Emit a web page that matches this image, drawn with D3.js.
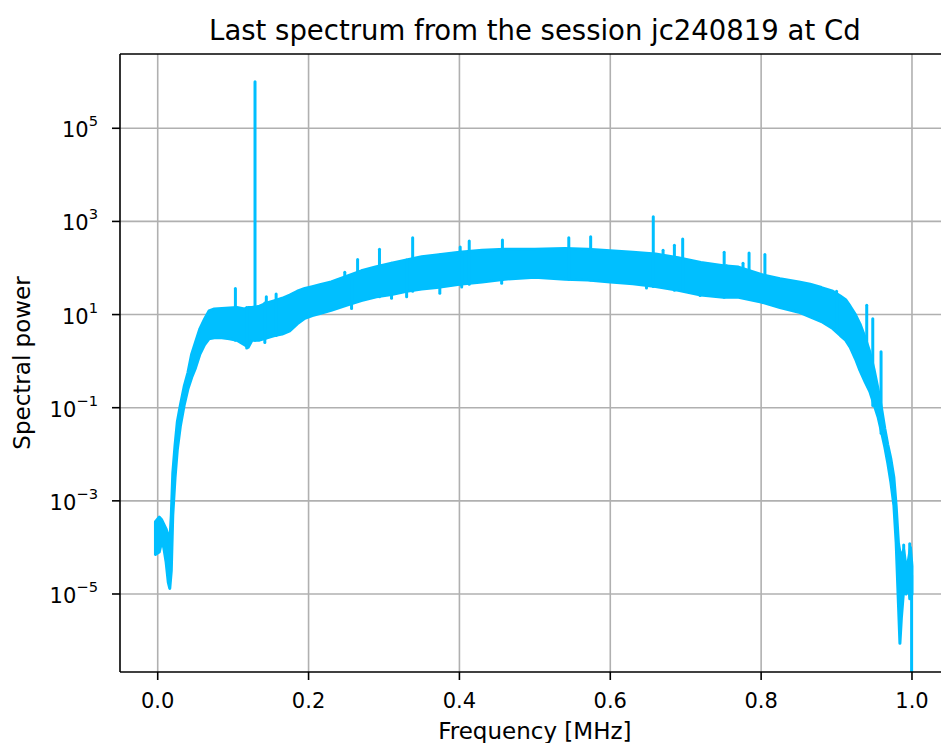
<!DOCTYPE html>
<html>
<head>
<meta charset="utf-8">
<script src="https://cdn.jsdelivr.net/npm/d3@7"></script>
<style>
  html, body { margin: 0; padding: 0; background: #ffffff; }
  svg { display: block; }
  text { font-family: "DejaVu Sans", sans-serif; fill: #000; }
</style>
</head>
<body>
<svg id="chart" width="941" height="743"></svg>
<script>
// ---------------- data (power given as log10 exponents) ----------------
const titleText = "Last spectrum from the session jc240819 at Cd";
const xLabelText = "Frequency [MHz]";
const yLabelText = "Spectral power";

const xTicks = [0.0, 0.2, 0.4, 0.6, 0.8, 1.0];
const yTickExponents = [-5, -3, -1, 1, 3, 5];

// envelope of the noisy spectrum band
const bandFreq = [-0.003, 0.002, 0.005, 0.008, 0.011, 0.014, 0.016, 0.018, 0.020, 0.023,
  0.026, 0.030, 0.035, 0.040, 0.045, 0.050, 0.056, 0.062, 0.068, 0.075,
  0.085, 0.095, 0.105, 0.115, 0.120, 0.125, 0.135, 0.145, 0.155, 0.165,
  0.175, 0.185, 0.195, 0.205, 0.215, 0.230, 0.250, 0.270, 0.290, 0.310,
  0.330, 0.350, 0.370, 0.400, 0.430, 0.460, 0.500, 0.540, 0.570, 0.600,
  0.630, 0.660, 0.690, 0.720, 0.750, 0.770, 0.800, 0.825, 0.850, 0.865,
  0.880, 0.895, 0.905, 0.912, 0.918, 0.925, 0.931, 0.938, 0.944, 0.950,
  0.955, 0.960, 0.964, 0.968, 0.972, 0.976, 0.979, 0.982, 0.984, 0.986,
  0.989, 0.992, 0.995, 0.998, 1.000];
const bandLowLog = [-4.15, -4.10, -3.90, -4.00, -4.30, -4.75, -4.88, -4.50, -3.30, -2.50,
  -1.90, -1.40, -0.95, -0.60, -0.35, -0.15, 0.15, 0.35, 0.48, 0.50,
  0.50, 0.48, 0.45, 0.35, 0.30, 0.45, 0.45, 0.50, 0.55, 0.58,
  0.65, 0.80, 0.92, 0.98, 1.02, 1.09, 1.20, 1.30, 1.38, 1.43,
  1.50, 1.55, 1.58, 1.65, 1.70, 1.76, 1.80, 1.76, 1.74, 1.70,
  1.66, 1.60, 1.52, 1.42, 1.37, 1.37, 1.27, 1.15, 1.05, 0.95,
  0.85, 0.70, 0.55, 0.45, 0.30, 0.05, -0.20, -0.45, -0.65, -0.95,
  -1.20, -1.55, -1.85, -2.20, -2.60, -3.10, -3.90, -5.20, -6.06, -5.50,
  -4.90, -5.00, -4.90, -5.10, -5.00];
const bandHighLog = [-3.45, -3.35, -3.40, -3.50, -3.60, -3.75, -3.90, -3.30, -2.40, -1.80,
  -1.30, -0.95, -0.55, -0.25, 0.15, 0.40, 0.70, 0.90, 1.08, 1.12,
  1.13, 1.14, 1.15, 1.12, 1.15, 1.15, 1.18, 1.25, 1.30, 1.35,
  1.42, 1.50, 1.56, 1.60, 1.64, 1.70, 1.82, 1.94, 2.03, 2.10,
  2.17, 2.24, 2.28, 2.34, 2.38, 2.40, 2.40, 2.42, 2.40, 2.37,
  2.34, 2.30, 2.22, 2.12, 2.05, 2.02, 1.86, 1.77, 1.70, 1.65,
  1.58, 1.50, 1.40, 1.32, 1.18, 1.00, 0.80, 0.50, 0.20, -0.20,
  -0.60, -1.05, -1.45, -1.80, -2.10, -2.50, -3.10, -3.90, -4.10, -4.20,
  -4.05, -4.40, -4.30, -4.00, -4.40];

// narrow spectral lines sticking out of the band
const spikeFreq = [0.103, 0.129, 0.144, 0.157, 0.248, 0.265, 0.294, 0.338, 0.401, 0.413,
  0.457, 0.545, 0.574, 0.657, 0.670, 0.685, 0.696, 0.751, 0.776, 0.784,
  0.805, 0.940, 0.948, 0.959, 0.989, 0.997];
const spikeTopLog = [1.56, 6.00, 1.38, 1.44, 1.91, 2.18, 2.40, 2.65, 2.45, 2.58,
  2.60, 2.65, 2.67, 3.10, 2.38, 2.49, 2.62, 2.34, 2.10, 2.32,
  2.29, 1.20, 0.91, 0.20, -3.95, -3.92];

// downward noise notches below the band
const dipFreq = [0.118, 0.142, 0.257, 0.310, 0.330, 0.374, 0.403, 0.456, 0.648, 0.719,
  0.754, 0.900, 0.911];
const dipLog = [0.28, 0.40, 1.13, 1.35, 1.38, 1.46, 1.59, 1.67, 1.57, 1.41,
  1.39, 0.66, 0.52];

// last sample drops to (near) zero
const tailFreq = [0.9995, 0.9995];
const tailLog = [-4.6, -12];

// ---------------- layout ----------------
const W = 941, H = 743;
const m = { left: 120, top: 54, bottom: 672, right: 949.7 };
const svg = d3.select("#chart");

const x = d3.scaleLinear().domain([-0.05, 1.05]).range([m.left, m.right]);
const y = d3.scaleLog().domain([Math.pow(10, -6.675), Math.pow(10, 6.595)]).range([m.bottom, m.top]);
const p = e => Math.pow(10, e);

svg.append("defs").append("clipPath").attr("id", "clip")
  .append("rect").attr("x", m.left).attr("y", m.top)
  .attr("width", m.right - m.left).attr("height", m.bottom - m.top);

// grid
const gridColor = "#b0b0b0";
const grid = svg.append("g");
grid.selectAll("line.gx").data(xTicks).enter().append("line")
  .attr("x1", d => x(d)).attr("x2", d => x(d))
  .attr("y1", m.top).attr("y2", m.bottom)
  .attr("stroke", gridColor).attr("stroke-width", 1.6);
grid.selectAll("line.gy").data(yTickExponents).enter().append("line")
  .attr("y1", d => y(p(d))).attr("y2", d => y(p(d)))
  .attr("x1", m.left).attr("x2", m.right)
  .attr("stroke", gridColor).attr("stroke-width", 1.6);

// data
const color = "#00BFFF";
const plot = svg.append("g").attr("clip-path", "url(#clip)");
const band = bandFreq.map((f, i) => ({ f, lo: bandLowLog[i], hi: bandHighLog[i] }));
const area = d3.area()
  .x(d => x(d.f)).y0(d => y(p(d.lo))).y1(d => y(p(d.hi)));
plot.append("path").datum(band).attr("d", area)
  .attr("fill", color).attr("stroke", color).attr("stroke-width", 3).attr("stroke-linejoin", "round");

function nearestIndex(f) {
  let best = 0;
  bandFreq.forEach((bf, i) => { if (Math.abs(bf - f) < Math.abs(bandFreq[best] - f)) best = i; });
  return best;
}
plot.selectAll("line.spike").data(spikeFreq).enter().append("line")
  .attr("x1", d => x(d)).attr("x2", d => x(d))
  .attr("y1", d => y(p(bandLowLog[nearestIndex(d)]))).attr("y2", (d, i) => y(p(spikeTopLog[i])))
  .attr("stroke", color).attr("stroke-width", 3).attr("stroke-linecap", "round");
plot.selectAll("line.dip").data(dipFreq).enter().append("line")
  .attr("x1", d => x(d)).attr("x2", d => x(d))
  .attr("y1", d => y(p(bandHighLog[nearestIndex(d)]))).attr("y2", (d, i) => y(p(dipLog[i])))
  .attr("stroke", color).attr("stroke-width", 3).attr("stroke-linecap", "round");

const tail = tailFreq.map((f, i) => ({ f, v: tailLog[i] }));
plot.append("path").datum(tail)
  .attr("d", d3.line().x(d => x(d.f)).y(d => y(p(d.v))))
  .attr("fill", "none").attr("stroke", color).attr("stroke-width", 3);

// axes spines
const ax = svg.append("g");
ax.append("line").attr("x1", m.left).attr("x2", m.left).attr("y1", m.top).attr("y2", m.bottom)
  .attr("stroke", "#000").attr("stroke-width", 1.6);
ax.append("line").attr("x1", m.left).attr("x2", m.right).attr("y1", m.bottom).attr("y2", m.bottom)
  .attr("stroke", "#000").attr("stroke-width", 1.6);
ax.append("line").attr("x1", m.left).attr("x2", m.right).attr("y1", m.top).attr("y2", m.top)
  .attr("stroke", "#000").attr("stroke-width", 1.6);

// x ticks
const fs = 21;
const xt = ax.selectAll("g.xt").data(xTicks).enter().append("g")
  .attr("transform", d => `translate(${x(d)},${m.bottom})`);
xt.append("line").attr("y1", 0).attr("y2", 8).attr("stroke", "#000").attr("stroke-width", 1.6);
xt.append("text").attr("y", 36).attr("text-anchor", "middle").attr("font-size", fs)
  .text(d => d3.format(".1f")(d));

// y ticks
const yt = ax.selectAll("g.yt").data(yTickExponents).enter().append("g")
  .attr("transform", d => `translate(${m.left},${y(p(d))})`);
yt.append("line").attr("x1", 0).attr("x2", -8).attr("stroke", "#000").attr("stroke-width", 1.6);
const ytText = yt.append("text").attr("x", -22).attr("y", 9).attr("text-anchor", "end").attr("font-size", fs);
ytText.append("tspan").text("10");
ytText.append("tspan").attr("dy", -11).attr("font-size", fs * 0.7)
  .text(d => (d < 0 ? "\u2212" + Math.abs(d) : String(d)));

// labels
svg.append("text").attr("x", (m.left + m.right) / 2).attr("y", 40)
  .attr("text-anchor", "middle").attr("font-size", 27.5).text(titleText);
svg.append("text").attr("x", (m.left + m.right) / 2).attr("y", 739)
  .attr("text-anchor", "middle").attr("font-size", 23).text(xLabelText);
svg.append("text").attr("transform", `translate(30,${(m.top + m.bottom) / 2}) rotate(-90)`)
  .attr("text-anchor", "middle").attr("font-size", 23).text(yLabelText);
</script>
</body>
</html>
